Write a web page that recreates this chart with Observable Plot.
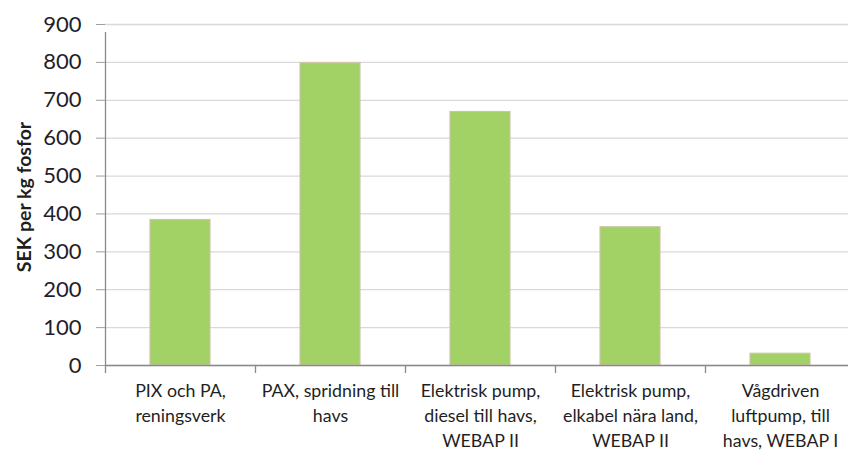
<!DOCTYPE html>
<html>
<head>
<meta charset="utf-8">
<script src="https://cdn.jsdelivr.net/npm/d3@7"></script>
<script src="https://cdn.jsdelivr.net/npm/@observablehq/plot@0.6"></script>
<style>
  html, body { margin: 0; padding: 0; background: #fff; }
  svg { display: block; }
</style>
</head>
<body>
<div id="chart"></div>
<script>
const categories = [
  "PIX och PA,\nreningsverk",
  "PAX, spridning till\nhavs",
  "Elektrisk pump,\ndiesel till havs,\nWEBAP II",
  "Elektrisk pump,\nelkabel nära land,\nWEBAP II",
  "Vågdriven\nluftpump, till\nhavs, WEBAP I"
];
const values = [384, 798, 669, 365, 31];
const yTicks = [0, 100, 200, 300, 400, 500, 600, 700, 800, 900];
const yLabel = "SEK per kg fosfor";

const data = categories.map((c, i) => ({category: c, value: values[i]}));

const chart = Plot.plot({
  width: 848,
  height: 450,
  marginLeft: 105,
  marginRight: 0,
  marginTop: 24,
  marginBottom: 85,
  style: {fontFamily: "Lato, 'Open Sans', sans-serif", color: "#222", background: "#fff"},
  x: {domain: categories, range: [105, 855], paddingInner: 0.6, paddingOuter: 0.3, axis: null},
  y: {domain: [0, 900], axis: null},
  marks: [
    Plot.ruleY(yTicks, {y: d => d, stroke: "#d9d9d9", strokeWidth: 1.3}),
    Plot.barY(data, {x: "category", y: "value", fill: "#a2d266", stroke: "#cdc4a6", strokeWidth: 1.2}),
    Plot.ruleY([0], {y: d => d, stroke: "#8a8a8a", strokeWidth: 1.3}),
    Plot.ruleX([categories[0]], {x: d => d, dx: -75, y1: 0, y2: 900, insetBottom: -8, stroke: "#8a8a8a", strokeWidth: 1.3}),
    Plot.ruleX(categories, {x: d => d, dx: -75, y1: 0, y2: 0, insetBottom: -8, stroke: "#8a8a8a", strokeWidth: 1.3}),
    Plot.axisY({ticks: yTicks, tickSize: 9, tickPadding: 15, stroke: "#a0a0a0", fontSize: 22, label: null, fill: "#1f1f2b"}),
    Plot.text(categories, {x: d => d, y: 0, text: d => d, lineAnchor: "top", dy: 14, lineHeight: 1.4, fontSize: 17.8, fill: "#1f1f1f"}),
    Plot.text([yLabel], {frameAnchor: "left", textAnchor: "middle", dx: -81, dy: 2, rotate: -90, text: d => d, fontSize: 19.5, fontWeight: "bold", fill: "#1f1f1f"})
  ]
});
document.getElementById("chart").appendChild(chart);
</script>
</body>
</html>
